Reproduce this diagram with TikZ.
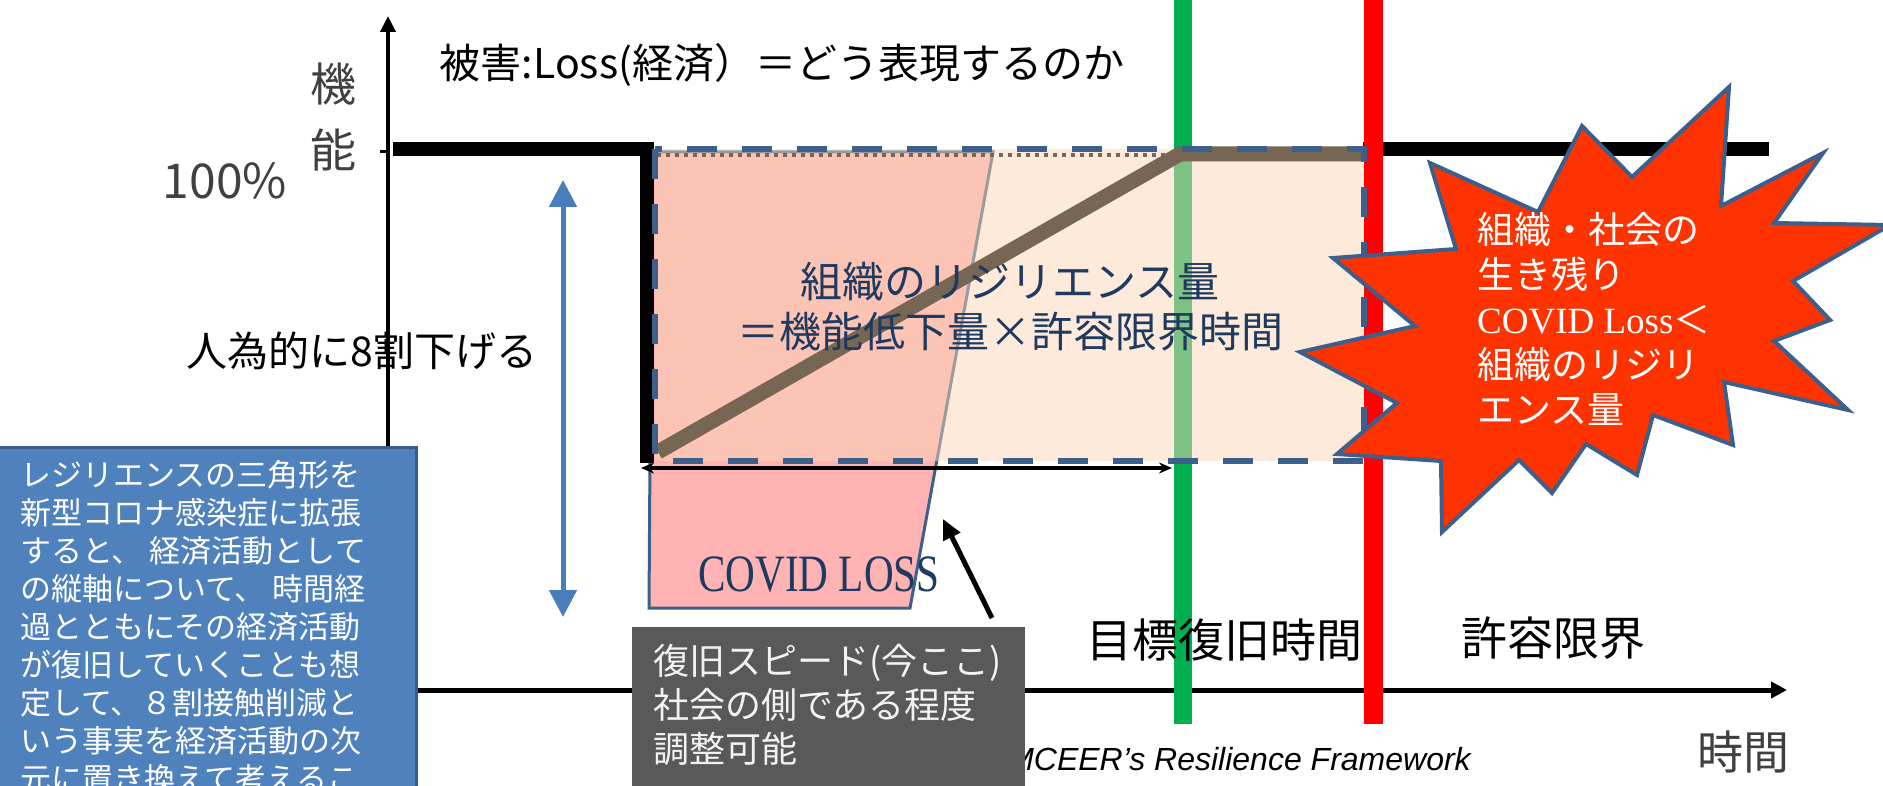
\documentclass[tikz,border=0pt]{standalone}
\usepackage{fontspec}
\usepackage{graphicx}
\setmainfont{Noto Sans CJK JP}
\newfontfamily\serifL{Liberation Serif}
\newfontfamily\sansL{Liberation Sans}
\usetikzlibrary{arrows.meta}
\definecolor{dashblue}{HTML}{3C5F8C}
\definecolor{peach}{HTML}{FBD5B5}
\definecolor{covpink}{HTML}{FFB3B3}
\definecolor{brownl}{HTML}{786654}
\definecolor{navy}{HTML}{1F3A60}
\definecolor{boxblue}{HTML}{4F81BD}
\definecolor{boxborder}{HTML}{385D8A}
\definecolor{greenl}{HTML}{00B050}
\definecolor{darkgray}{HTML}{404040}
\definecolor{boxgray}{HTML}{595959}
\definecolor{textlight}{HTML}{F2F2F2}
\definecolor{burstred}{HTML}{FF3300}
\definecolor{arrowblue}{HTML}{4A7EBB}
\newcommand\fsz[2]{\fontsize{#1pt}{#2pt}\selectfont}
\begin{document}
\begin{tikzpicture}[x=1pt,y=-1pt,
  axis/.style={line width=4.5pt,line cap=butt},
  thickblack/.style={line width=14pt,line join=miter,line cap=butt},
  bigtxt/.style={inner sep=0pt,font=\fsz{46}{54}},
  midtxt/.style={inner sep=0pt,font=\fsz{41}{49}},
  graytxt/.style={text=darkgray},
  navytxt/.style={text=navy,inner sep=0pt,font=\fsz{42}{50},align=center},
  blocktxt/.style={inner sep=0pt,anchor=north west,align=left}
]
\useasboundingbox (0,0) rectangle (1883,786);
\clip (0,0) rectangle (1883,786);

% coordinates
\coordinate (O) at (388,690);
\coordinate (ytip) at (388,16);
\coordinate (xtip) at (1787,690);
\coordinate (tickL) at (380,152);
\coordinate (tickR) at (388,152);
\coordinate (topL) at (393,149);
\coordinate (corner) at (647,149);
\coordinate (dropB) at (647,463);
\coordinate (topR1) at (1363,149);
\coordinate (topR2) at (1769,149);
\coordinate (gT) at (1183,0);
\coordinate (gB) at (1183,724);
\coordinate (rT) at (1373,0);
\coordinate (rB) at (1373,724);
\coordinate (rectA) at (655,149);
\coordinate (rectB) at (1364,461);
\coordinate (dA) at (657,155);
\coordinate (dB) at (1362,155);
\coordinate (bA) at (658,452);
\coordinate (bM) at (1180,154);
\coordinate (bE) at (1363,154);
\coordinate (hA) at (641,468);
\coordinate (hB) at (1172,468);
\coordinate (vA) at (563,180);
\coordinate (vB) at (563,617);
\coordinate (pTail) at (992,618);
\coordinate (pTip) at (943,519);

% blue double arrow
\draw[arrowblue,line width=5pt,{Triangle[length=27pt,width=27pt]}-{Triangle[length=27pt,width=27pt]}] (vA) -- (vB);

% axes
\draw[axis,-{Triangle[length=16pt,width=15pt]}] (O) -- (ytip);
\draw[axis,line width=5pt,-{Triangle[length=16pt,width=16pt]}] (O) -- (xtip);
\draw[line width=3pt] (tickL) -- (tickR);

% black line right part
\draw[thickblack] (topR1) -- (topR2);

% green / red vertical lines
\draw[greenl,line width=18pt] (gT) -- (gB);
\draw[red,line width=19pt] (rT) -- (rB);

% COVID loss polygon
\draw[fill=covpink,draw=dashblue,line width=3pt,line join=miter] (652,152) -- (993,152) -- (910,608) -- (649,608) -- cycle;

% resilience rectangle fill
\fill[peach,fill opacity=0.5] (rectA) rectangle (rectB);

% black function line (drop)
\draw[thickblack] (topL) -- (corner) -- (dropB);

% brown lines
\draw[brownl,line width=4pt,dash pattern=on 4pt off 5pt] (dA) -- (dB);
\draw[brownl,line width=15pt,line join=miter] (bA) -- (bM) -- (bE);

% dashed rectangle border
\draw[dashblue,line width=6pt,dash pattern=on 30pt off 25pt] (rectA) rectangle (rectB);

% thin double arrow
\draw[line width=3.5pt,{Stealth[length=13pt,width=11pt]}-{Stealth[length=13pt,width=11pt]}] (hA) -- (hB);

% texts
\node[midtxt] (title) at (782,65) {被害:Loss(経済）＝どう表現するのか};
\node[bigtxt,graytxt] (ki) at (333,84) {機};
\node[bigtxt,graytxt] (nou) at (333,150) {能};
\node[inner sep=0pt,graytxt,font=\fsz{48}{56}] (pct) at (225,181) {100\%};
\node[midtxt] (hito) at (362,351) {人為的に8割下げる};
\node[navytxt] (res) at (1010,307) {組織のリジリエンス量\\＝機能低下量×許容限界時間};
\node[inner sep=0pt,text=navy,font=\serifL\fsz{42}{49}] (covid) at (819,575) {\scalebox{0.98}[1.25]{COVID LOSS}};
\node[bigtxt] (mokuhyo) at (1224,640) {目標復旧時間};
\node[bigtxt] (kyoyo) at (1553,638) {許容限界};
\node[bigtxt,graytxt] (jikan) at (1743,752) {時間};
\node[inner sep=0pt,anchor=east,font=\sansL\itshape\fsz{32}{38}] (mceer) at (1471,759) {MCEER’s Resilience Framework};

% pointer arrow
\draw[line width=5pt,-{Triangle[length=20pt,width=18pt]}] (pTail) -- (pTip);

% gray box
\fill[boxgray] (632,627) rectangle (1025,800);
\node[blocktxt,text=textlight,font=\fsz{36}{44}] (gtext) at (653,644) {復旧スピード(今ここ)\\社会の側である程度\\調整可能};

% blue box
\draw[fill=boxblue,draw=boxborder,line width=3pt] (-5,447) rectangle (416,800);
\node[blocktxt,text=white,font=\fsz{31}{38}] (btext) at (20,460) {レジリエンスの三角形を\\新型コロナ感染症に拡張\\すると、 経済活動として\\の縦軸について、 時間経\\過とともにその経済活動\\が復旧していくことも想\\定して、８割接触削減と\\いう事実を経済活動の次\\元に置き換えて考えるこ};

% starburst
\draw[fill=burstred,draw=dashblue,line width=4pt,line join=miter]
  (1430,163) -- (1538,212) -- (1582,126) -- (1632,177) -- (1729,87) -- (1721,206)
  -- (1823,153) -- (1774,223) -- (1890,225) -- (1793,281) -- (1830,320) -- (1774,341)
  -- (1848,410) -- (1724,382) -- (1733,445) -- (1653,415) -- (1637,475) -- (1586,444)
  -- (1552,493) -- (1519,460) -- (1442,532) -- (1441,461) -- (1337,454) -- (1397,403)
  -- (1300,352) -- (1415,326) -- (1333,258) -- (1456,249) -- cycle;
\node[blocktxt,text=white,font=\fsz{37}{45}] (bursttext) at (1477,212) {組織・社会の\\生き残り\\{\serifL COVID Loss}＜\\組織のリジリ\\エンス量};
\end{tikzpicture}
\end{document}
